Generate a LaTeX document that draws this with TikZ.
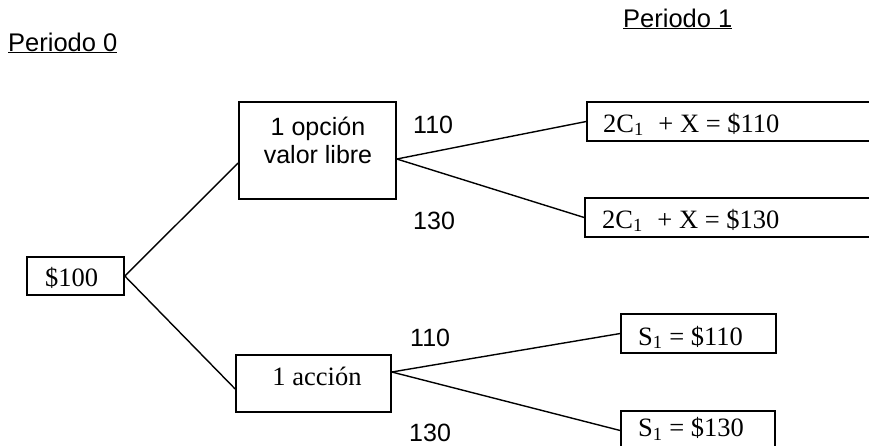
\documentclass[tikz,border=0pt]{standalone}
\usepackage{fontspec}
\setmainfont{Liberation Serif}
\newfontfamily\arialfont{Liberation Sans}
\begin{document}
\begin{tikzpicture}[x=1pt,y=-1pt,
  box/.style={draw, line width=1.6pt, inner sep=0pt},
  branch/.style={line width=1.4pt},
  sans/.style={font=\arialfont\fontsize{25}{29}\selectfont, inner sep=0pt},
  heading/.style={font=\arialfont\fontsize{25.5}{29}\selectfont, inner sep=0pt},
  serif/.style={font=\fontsize{26.5}{30}\selectfont, inner sep=0pt},
  ]
\useasboundingbox (0,0) rectangle (869,445);
\clip (0,0) rectangle (869,445);

% period headings
\node[heading, anchor=base west] (per0) at (8,51) {\underline{Periodo 0}};
\node[heading, anchor=base west] (per1) at (623,27) {\underline{Periodo 1}};

% period 0 root
\node[box, minimum width=97pt, minimum height=38pt] (root) at (75.5,276) {};
\node[serif, anchor=base] (roott) at (71.5,286) {\$100};

% period 0 alternatives
\node[box, minimum width=157pt, minimum height=97pt] (op) at (317.5,150.5) {};
\node[sans, anchor=base] (opt1) at (318,135) {1 opción};
\node[sans, anchor=base] (opt2) at (318,163) {valor libre};

\node[box, minimum width=155pt, minimum height=57pt] (ac) at (313.5,383.5) {};
\node[serif, anchor=base] (act) at (317,385) {1 acción};

% period 1 outcomes
\node[box, minimum width=293pt, minimum height=39pt] (c1) at (733.5,121.5) {};
\node[serif, anchor=base west] (c1t) at (603,132) {2C\textsubscript{1}\hspace{0.3em} + X = \$110};
\node[box, minimum width=295pt, minimum height=39pt] (c2) at (732.5,217.5) {};
\node[serif, anchor=base west] (c2t) at (602,228) {2C\textsubscript{1}\hspace{0.3em} + X = \$130};

\node[box, minimum width=155pt, minimum height=39pt] (s1) at (698.5,333.5) {};
\node[serif, anchor=base west] (s1t) at (638,345) {S\textsubscript{1} = \$110};
\node[box, minimum width=154pt, minimum height=39pt] (s2) at (698,430.5) {};
\node[serif, anchor=base west] (s2t) at (638,436.5) {S\textsubscript{1} = \$130};

% branch values
\node[sans, anchor=base west] (v1) at (413,133) {110};
\node[sans, anchor=base west] (v2) at (413,229) {130};
\node[sans, anchor=base west] (v3) at (410,346) {110};
\node[sans, anchor=base west] (v4) at (409,441) {130};

% branches
\draw[branch] (root.east) -- ([yshift=-12.5pt]op.west);
\draw[branch] (root.east) -- ([yshift=-5.5pt]ac.west);
\draw[branch] ([yshift=-8.5pt]op.east) -- (c1.west);
\draw[branch] ([yshift=-8.5pt]op.east) -- (c2.west);
\draw[branch] ([yshift=11.5pt]ac.east) -- (s1.west);
\draw[branch] ([yshift=11.5pt]ac.east) -- (s2.west);
\end{tikzpicture}
\end{document}
